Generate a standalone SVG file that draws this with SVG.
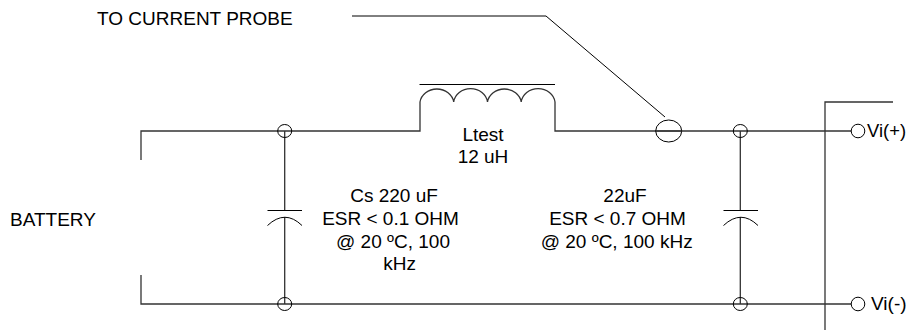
<svg xmlns="http://www.w3.org/2000/svg" width="906" height="330" viewBox="0 0 906 330">
<style>
text{font-family:"Liberation Sans",Arial,sans-serif;font-size:19px;fill:#000}
.m{text-anchor:middle}
.w{fill:none;stroke:#333;stroke-width:1.3}
.t{fill:none;stroke:#000;stroke-width:1}
</style>
<rect width="906" height="330" fill="#fff"/>
<g id="connectors">
<path class="w" d="M141 160V131H420V102M555 102V131H851M141 275V304H851"/>
<path class="t" d="M352 16H546L665 117"/>
<path class="w" d="M825 330V102H893"/>
<path class="w" d="M284.700 131V210M284.700 217V304M740.300 131V210M740.300 217V304"/>
</g>
<g id="inductor">
<path class="t" d="M419.500 84.500H555"/>
<path class="w" d="M420 102A17 15 0 0 1 453.700 102A17 15 0 0 1 487.500 102A17 15 0 0 1 521.200 102A17 15 0 0 1 555 102"/>
</g>
<g id="probe"><ellipse class="t" cx="668.700" cy="131" rx="13" ry="11" fill="#fff"/><path class="w" d="M655.700 131H681.700"/></g>
<g id="cap-s">
<ellipse class="t" cx="284.700" cy="131" rx="7" ry="6.500"/>
<ellipse class="t" cx="284.700" cy="304" rx="7" ry="6.500"/>
<path class="t" d="M267.500 210.500H302M267.500 225.500Q285 209 302 225.500"/>
</g>
<g id="cap-o">
<ellipse class="t" cx="740.300" cy="131" rx="7" ry="6.500"/>
<ellipse class="t" cx="740.300" cy="304" rx="7" ry="6.500"/>
<path class="t" d="M723.500 210.500H758M723.500 225.500Q741 209 758 225.500"/>
</g>
<g id="vi-plus"><circle class="t" cx="858" cy="131" r="6.800" fill="#fff"/><text x="867" y="137" style="font-size:18.400px">Vi(+)</text></g>
<g id="vi-minus"><circle class="t" cx="858" cy="304" r="6.800" fill="#fff"/><text x="871" y="310">Vi(-)</text></g>
<g id="labels">
<text x="97" y="25">TO CURRENT PROBE</text>
<text x="10" y="226">BATTERY</text>
<text class="m" x="483" y="141">Ltest</text>
<text class="m" x="483" y="163">12 uH</text>
<text class="m" x="394" y="202">Cs 220 uF</text>
<text class="m" x="390.500" y="225">ESR &lt; 0.1 OHM</text>
<text class="m" x="393" y="248">@ 20 ºC, 100</text>
<text class="m" x="399.700" y="270">kHz</text>
<text class="m" x="625" y="202">22uF</text>
<text class="m" x="617.500" y="225">ESR &lt; 0.7 OHM</text>
<text class="m" x="616.700" y="248">@ 20 ºC, 100 kHz</text>
</g>
</svg>
